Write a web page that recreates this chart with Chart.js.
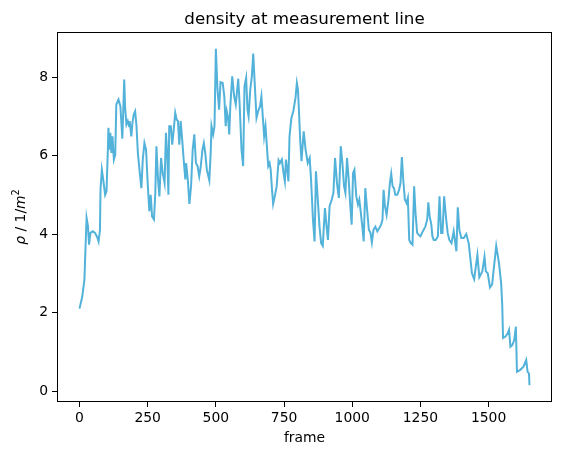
<!DOCTYPE html>
<html>
<head>
<meta charset="utf-8">
<script src="https://cdn.jsdelivr.net/npm/chart.js@4"></script>
<style>
  html, body { margin: 0; padding: 0; background: #fff; }
  canvas { display: block; }
</style>
</head>
<body>
<canvas id="chart" width="561" height="455"></canvas>
<script>
// values
const frames = [
  0, 10, 18, 23, 26, 31, 35, 40, 49, 57, 65, 70, 75, 77, 82, 87, 94, 99, 104, 106,
  110, 113, 117, 121, 126, 131, 135, 143, 150, 157, 161, 164, 167, 172, 177, 182, 184, 190, 194, 199,
  204, 209, 214, 221, 227, 232, 238, 244, 250, 256, 261, 266, 273, 278, 282, 288, 293, 299, 305, 312,
  317, 322, 326, 329, 335, 340, 345, 351, 356, 361, 366, 371, 376, 382, 388, 391, 397, 403, 409, 415,
  421, 427, 433, 439, 444, 451, 456, 461, 467, 476, 481, 484, 490, 495, 500, 506, 512, 517, 525, 531,
  536, 540, 545, 549, 553, 560, 567, 573, 582, 587, 594, 600, 605, 611, 616, 620, 626, 632, 637, 643,
  649, 655, 662, 667, 672, 677, 682, 687, 692, 697, 701, 705, 710, 716, 723, 730, 735, 742, 748, 753,
  757, 761, 766, 770, 777, 784, 792, 797, 801, 805, 809, 814, 822, 829, 837, 844, 849, 856, 862, 867,
  873, 880, 886, 892, 896, 900, 906, 911, 917, 925, 931, 937, 944, 951, 958, 964, 970, 975, 981, 987,
  993, 998, 1003, 1008, 1015, 1021, 1026, 1031, 1037, 1042, 1048, 1054, 1061, 1067, 1072, 1078, 1085, 1092, 1099, 1106,
  1111, 1115, 1120, 1126, 1133, 1138, 1143, 1148, 1153, 1158, 1165, 1172, 1177, 1182, 1187, 1193, 1199, 1204, 1209, 1215,
  1221, 1227, 1232, 1238, 1244, 1250, 1256, 1262, 1268, 1275, 1279, 1284, 1290, 1294, 1299, 1306, 1314, 1320, 1326, 1331,
  1337, 1344, 1350, 1356, 1364, 1372, 1382, 1387, 1393, 1400, 1409, 1418, 1427, 1439, 1447, 1459, 1466, 1477, 1485, 1490,
  1497, 1505, 1513, 1518, 1528, 1538, 1546, 1550, 1553, 1562, 1570, 1575, 1580, 1587, 1594, 1600, 1604, 1616, 1628, 1638,
  1643, 1648, 1650
]
const density = [
  2.1, 2.4, 2.83, 3.85, 4.41, 4.2, 3.73, 4.03, 4.07, 4.03, 3.92, 3.81, 4.11, 5.13, 5.64, 5.39, 5.0, 5.09, 6.15, 6.71,
  6.15, 6.58, 6.07, 6.49, 5.9, 6.02, 7.3, 7.43, 7.26, 6.43, 7.26, 7.94, 7.26, 6.79, 6.88, 6.75, 6.88, 6.49, 6.83, 7.05,
  7.13, 6.75, 6.07, 5.56, 5.17, 5.9, 6.32, 6.15, 5.3, 4.58, 5.0, 4.45, 4.37, 5.05, 6.24, 5.39, 4.96, 5.94, 5.56, 5.3,
  6.58, 5.98, 5.0, 6.75, 6.75, 6.28, 6.62, 7.09, 6.92, 6.88, 6.28, 6.88, 6.45, 5.9, 5.39, 5.81, 5.39, 4.77, 5.22, 6.15,
  6.54, 5.81, 5.73, 5.47, 5.69, 6.15, 6.32, 6.07, 5.64, 5.37, 6.07, 6.75, 6.54, 6.75, 8.72, 7.68, 7.17, 7.87, 7.85, 7.51,
  6.75, 7.13, 6.96, 6.54, 7.26, 8.02, 7.51, 7.3, 7.96, 7.34, 6.15, 5.73, 7.77, 7.98, 7.17, 7.0, 7.68, 8.02, 8.6, 7.77,
  6.96, 7.13, 7.26, 7.51, 7.0, 6.49, 6.75, 6.24, 5.73, 5.81, 5.64, 5.22, 4.77, 4.96, 5.22, 5.88, 5.81, 5.9, 5.56, 5.34,
  5.9, 5.69, 5.34, 6.49, 6.96, 7.13, 7.47, 7.85, 7.68, 7.09, 6.41, 5.86, 6.62, 6.15, 5.81, 5.94, 5.39, 4.37, 3.81, 5.6,
  4.96, 4.19, 3.77, 3.7, 4.19, 4.66, 4.19, 3.85, 4.71, 4.88, 5.05, 5.94, 5.3, 4.92, 6.24, 5.81, 5.22, 5.05, 5.94, 5.39,
  4.71, 4.24, 5.56, 5.64, 4.96, 4.75, 4.88, 4.58, 4.19, 3.81, 5.17, 4.66, 4.11, 4.03, 3.79, 4.11, 4.19, 4.07, 4.15, 4.24,
  4.37, 5.13, 4.71, 4.49, 4.88, 5.3, 5.54, 5.22, 5.17, 5.0, 5.0, 5.13, 5.3, 5.96, 5.39, 4.88, 4.79, 4.92, 3.85, 3.77,
  3.73, 5.22, 4.54, 4.03, 3.98, 3.94, 4.03, 4.11, 4.19, 4.37, 4.81, 4.45, 4.24, 3.94, 3.85, 3.85, 3.94, 4.96, 4.03, 4.03,
  4.96, 4.41, 4.03, 3.85, 3.77, 4.07, 3.56, 4.68, 4.1, 3.9, 3.9, 4.0, 3.77, 3.0, 2.85, 3.47, 2.9, 3.05, 3.42, 3.05,
  3.0, 2.64, 2.72, 3.05, 3.7, 3.26, 2.75, 2.2, 1.35, 1.39, 1.47, 1.56, 1.13, 1.17, 1.3, 1.64, 0.49, 0.54, 0.62, 0.79,
  0.49, 0.45, 0.15
]
const xTicks = [0, 250, 500, 750, 1000, 1250, 1500]
const yTicks = [0, 2, 4, 6, 8]

const FONT = "'DejaVu Sans', sans-serif"

// title, axis labels and the full axes box, placed like matplotlib does
const decor = {
  id: 'decor',
  afterDraw(chart) {
    const ctx = chart.ctx
    const a = chart.chartArea
    const cx = (a.left + a.right) / 2
    ctx.save()
    ctx.strokeStyle = '#000'
    ctx.lineWidth = 1
    ctx.strokeRect(a.left + 0.5, a.top + 0.5, a.right - a.left - 1, a.bottom - a.top - 1)

    ctx.fillStyle = '#000'
    ctx.textAlign = 'center'
    ctx.textBaseline = 'alphabetic'
    ctx.font = '16.7px ' + FONT
    ctx.fillText('density at measurement line', cx, a.top - 8)

    ctx.font = '13.9px ' + FONT
    ctx.fillText('frame', cx, 442)

    // y label: $\rho$ / $1/m^2$
    const runs = [
      { t: 'ρ', font: 'italic 13.9px ' + FONT, dy: 0 },
      { t: ' / 1/', font: '13.9px ' + FONT, dy: 0 },
      { t: 'm', font: 'italic 13.9px ' + FONT, dy: 0 },
      { t: '2', font: '9.7px ' + FONT, dy: -6 }
    ]
    let total = 0
    runs.forEach(r => { ctx.font = r.font; r.w = ctx.measureText(r.t).width; total += r.w })
    ctx.translate(25, (a.top + a.bottom) / 2)
    ctx.rotate(-Math.PI / 2)
    ctx.textAlign = 'left'
    let x = -total / 2
    runs.forEach(r => {
      ctx.font = r.font
      ctx.fillText(r.t, x, r.dy)
      x += r.w
    })
    ctx.restore()
  }
}

const tickFont = { family: FONT, size: 13.9 }
const plain = v => String(v)

new Chart(document.getElementById('chart').getContext('2d'), {
  type: 'line',
  data: {
    datasets: [{
      data: frames.map((f, i) => ({ x: f, y: density[i] })),
      borderColor: '#52b2da',
      borderWidth: 2,
      pointRadius: 0,
      tension: 0,
      fill: false
    }]
  },
  options: {
    responsive: false,
    animation: false,
    devicePixelRatio: 1,
    layout: { padding: { left: 0, right: 9, top: 32, bottom: 0 } },
    plugins: { legend: { display: false }, title: { display: false }, tooltip: { enabled: false } },
    scales: {
      x: {
        type: 'linear',
        min: -82.5,
        max: 1732.5,
        afterBuildTicks: s => { s.ticks = xTicks.map(v => ({ value: v })) },
        afterFit: s => { s.height = 53 },
        grid: { drawOnChartArea: false, drawTicks: true, tickLength: 5, tickColor: '#000', tickWidth: 1 },
        border: { display: false },
        ticks: { color: '#000', font: tickFont, padding: 3, maxRotation: 0, autoSkip: false, callback: plain }
      },
      y: {
        type: 'linear',
        min: -0.28,
        max: 9.15,
        afterBuildTicks: s => { s.ticks = yTicks.map(v => ({ value: v })) },
        afterFit: s => { s.width = 57 },
        grid: { drawOnChartArea: false, drawTicks: true, tickLength: 5, tickColor: '#000', tickWidth: 1 },
        border: { display: false },
        ticks: { color: '#000', font: tickFont, padding: 4, callback: plain }
      }
    }
  },
  plugins: [decor]
})
</script>
</body>
</html>
